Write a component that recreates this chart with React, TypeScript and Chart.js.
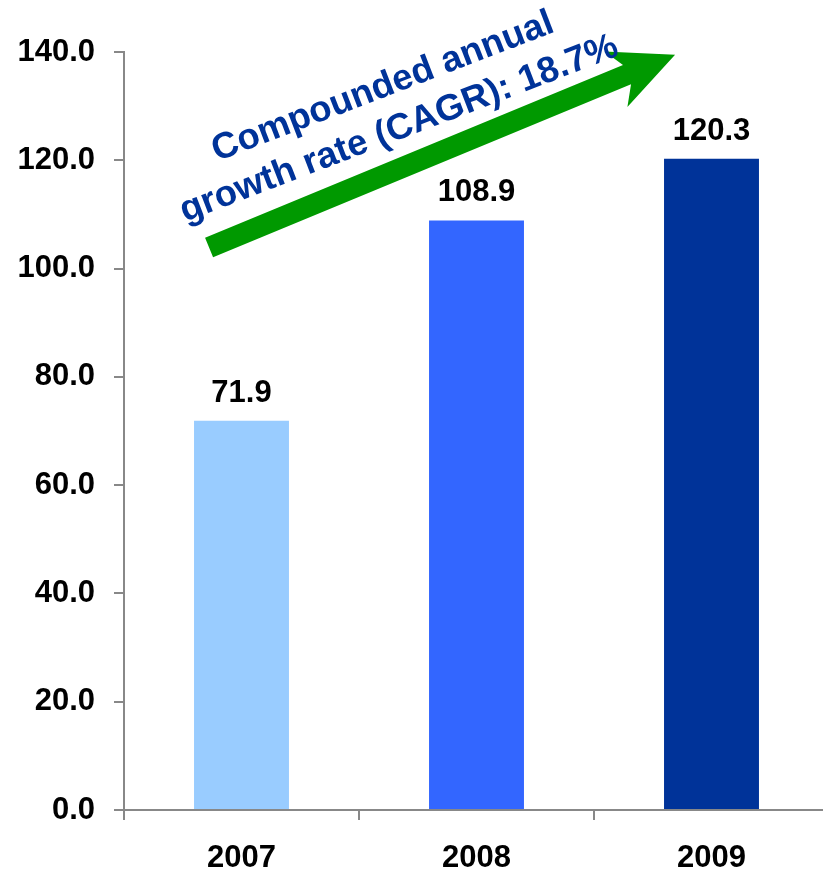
import React, { useEffect, useRef } from "react";
import { Chart, registerables } from "chart.js";

Chart.register(...registerables);

// ---- data ----
const categories = ["2007", "2008", "2009"];
const values = [71.9, 108.9, 120.3];
const barColors = ["#99CCFF", "#3366FF", "#003399"];
const yMin = 0;
const yMax = 140;
const yStep = 20;
const cagrLines = ["Compounded annual", "growth rate (CAGR): 18.7%"];
// annotation anchors in data space: [category index, value]
const arrowFrom = [-0.138, 103.9];
const arrowTo = [1.845, 139.5];
const textAnchor = [0.617, 131.8];
const textAngleDeg = -21;

const FONT = "'Liberation Sans', Arial, Helvetica, sans-serif";

const overlayPlugin = {
  id: "overlay",
  afterDatasetsDraw(chart: any) {
    const { ctx } = chart;
    const xs = chart.scales.x;
    const ys = chart.scales.y;
    const meta = chart.getDatasetMeta(0);

    // value labels
    ctx.save();
    ctx.font = `bold 31px ${FONT}`;
    ctx.fillStyle = "#000000";
    ctx.textAlign = "center";
    ctx.textBaseline = "alphabetic";
    meta.data.forEach((bar: any, i: number) => {
      ctx.fillText(values[i].toFixed(1), bar.x, bar.y - 19);
    });
    ctx.restore();

    // green arrow (swept-back head)
    const x0 = xs.getPixelForValue(arrowFrom[0]);
    const y0 = ys.getPixelForValue(arrowFrom[1]);
    const x1 = xs.getPixelForValue(arrowTo[0]);
    const y1 = ys.getPixelForValue(arrowTo[1]);
    const ang = Math.atan2(y1 - y0, x1 - x0);
    const len = Math.hypot(x1 - x0, y1 - y0);
    const sw = 10.5;
    const hw = 30;
    const barbBack = 64;
    const neckBack = 52;
    ctx.save();
    ctx.translate(x0, y0);
    ctx.rotate(ang);
    ctx.beginPath();
    ctx.moveTo(0, -sw);
    ctx.lineTo(len - neckBack, -sw);
    ctx.lineTo(len - barbBack, -hw);
    ctx.lineTo(len, 0);
    ctx.lineTo(len - barbBack, hw);
    ctx.lineTo(len - neckBack, sw);
    ctx.lineTo(0, sw);
    ctx.closePath();
    ctx.fillStyle = "#009900";
    ctx.fill();
    ctx.restore();

    // CAGR text
    const tx = xs.getPixelForValue(textAnchor[0]);
    const ty = ys.getPixelForValue(textAnchor[1]);
    ctx.save();
    ctx.translate(tx, ty);
    ctx.rotate((textAngleDeg * Math.PI) / 180);
    ctx.font = `bold 36.5px ${FONT}`;
    ctx.fillStyle = "#003399";
    ctx.textAlign = "center";
    ctx.textBaseline = "alphabetic";
    cagrLines.forEach((line, i) => {
      ctx.fillText(line, 0, i * 45);
    });
    ctx.restore();
  },
};

export default function App() {
  const ref = useRef<HTMLCanvasElement | null>(null);

  useEffect(() => {
    if (!ref.current) return;
    const chart = new Chart(ref.current, {
      type: "bar",
      data: {
        labels: categories,
        datasets: [
          {
            data: values,
            backgroundColor: barColors,
            borderWidth: 0,
            categoryPercentage: 1,
            barPercentage: 0.404,
          },
        ],
      },
      options: {
        responsive: false,
        animation: false,
        devicePixelRatio: 1,
        layout: { padding: { top: 52, right: 41, bottom: 0, left: 0 } },
        plugins: {
          legend: { display: false },
          tooltip: { enabled: false },
          title: { display: false },
        },
        scales: {
          x: {
            grid: {
              offset: true,
              drawOnChartArea: false,
              drawTicks: true,
              tickLength: 10,
              color: "#888888",
              lineWidth: 2,
            },
            border: { display: true, color: "#888888", width: 2 },
            ticks: {
              color: "#000000",
              padding: 20,
              font: { family: FONT, size: 31, weight: "bold" },
            },
            afterFit: (scale: any) => {
              scale.height = 62;
            },
          },
          y: {
            min: yMin,
            max: yMax,
            grid: {
              drawOnChartArea: false,
              drawTicks: true,
              tickLength: 10,
              color: "#888888",
              lineWidth: 2,
            },
            border: { display: true, color: "#888888", width: 2 },
            ticks: {
              stepSize: yStep,
              color: "#000000",
              padding: 19,
              font: { family: FONT, size: 31, weight: "bold" },
              callback: (v: any) => Number(v).toFixed(1),
            },
            afterFit: (scale: any) => {
              scale.width = 124;
            },
          },
        },
      },
      plugins: [overlayPlugin],
    });
    return () => chart.destroy();
  }, []);

  return (
    <div
      style={{
        position: "fixed",
        left: 0,
        top: 0,
        width: 823,
        height: 872,
        overflow: "hidden",
        background: "#ffffff",
      }}
    >
      <canvas ref={ref} width={870} height={872} style={{ display: "block" }} />
    </div>
  );
}
